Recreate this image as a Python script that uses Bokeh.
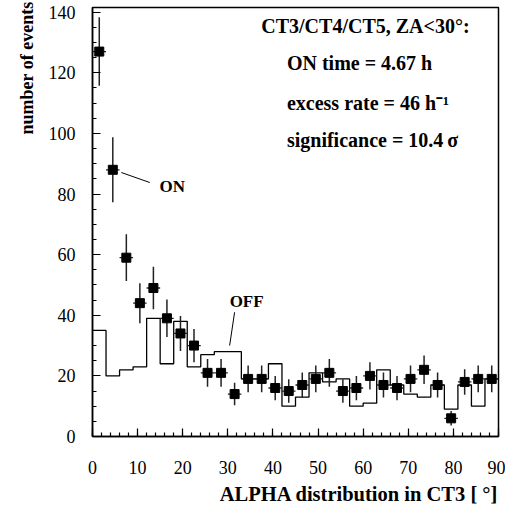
import numpy as np
from bokeh.plotting import figure
from bokeh.models import Range1d, SingleIntervalTicker, Label, ColumnDataSource, Title
from bokeh.embed import file_html
from bokeh.resources import INLINE

# ---- data ----
bin_width = 3
x_min, x_max = 0, 90
on_counts = [127, 88, 59, 44, 49, 39, 34, 30, 21, 21, 14, 19, 19, 16, 15,
             17, 19, 21, 15, 16, 20, 17, 16, 19, 22, 17, 6, 18, 19, 19]
on_errors = [11.3, 10.7, 7.7, 6.6, 7.0, 6.2, 5.8, 5.5, 4.6, 4.6, 3.7, 4.4, 4.4, 4.0, 3.9,
             4.1, 4.4, 4.6, 3.9, 4.0, 4.5, 4.1, 4.0, 4.4, 4.7, 4.1, 2.4, 4.2, 4.4, 4.4]
off_counts = [35, 20, 22, 23, 39, 24, 38, 23, 27, 28, 28, 19, 19, 24, 10,
              13, 21, 18, 19, 10, 11, 22, 17, 14, 13, 17, 9, 17, 10, 19]
info_title = "CT3/CT4/CT5, ZA<30°:"
info_lines = ["ON time = 4.67 h", "excess rate = 46 h\u207b\u00b9", "significance = 10.4\u2009\u03c3"]
x_title = "ALPHA distribution in CT3 [ °]"
y_title = "number of events"

edges = np.arange(x_min, x_max + bin_width, bin_width)
centers = edges[:-1] + bin_width / 2.0
on = np.array(on_counts, dtype=float)
err = np.array(on_errors, dtype=float)

FONT = "Liberation Serif"

p = figure(width=505, height=509, output_backend="svg", toolbar_location=None,
           x_range=Range1d(0, 90), y_range=Range1d(0, 141.55),
           min_border_left=92, min_border_right=7, min_border_top=7, min_border_bottom=73)
p.grid.visible = False
p.background_fill_color = "white"
p.border_fill_color = "white"
p.outline_line_color = "black"
p.outline_line_width = 1.5

for ax in (p.xaxis[0], p.yaxis[0]):
    ax.axis_line_width = 1.5
    ax.major_tick_in = 8
    ax.major_tick_out = 0
    ax.minor_tick_in = 4
    ax.minor_tick_out = 0
    ax.major_tick_line_width = 1.2
    ax.minor_tick_line_width = 1.2
    ax.major_label_text_font = FONT
    ax.major_label_text_font_size = "18px"
    ax.major_label_text_color = "black"
p.xaxis.ticker = SingleIntervalTicker(interval=10, num_minor_ticks=5)
p.yaxis.ticker = SingleIntervalTicker(interval=20, num_minor_ticks=4)
p.xaxis.major_label_standoff = 24
p.yaxis.major_label_standoff = 17

# OFF histogram
p.step(x=list(edges), y=off_counts + [off_counts[-1]], mode="after",
       line_color="black", line_width=1.3)

# ON points with error bars
src = ColumnDataSource(dict(x=centers, y=on, lo=on - err, hi=on + err,
                            xl=centers - bin_width / 2.0, xr=centers + bin_width / 2.0))
p.segment(x0="x", y0="lo", x1="x", y1="hi", source=src, line_color="#222222", line_width=1.5)
p.segment(x0="xl", y0="y", x1="xr", y1="y", source=src, line_color="#222222", line_width=1.3)
p.scatter(x="x", y="y", source=src, marker="square", size=9, fill_color="black", line_color="black")

# annotations ON / OFF
p.segment(x0=[6.4, 31.5], y0=[87.1, 41.0], x1=[12.7, 30.4], y1=[83.8, 30.0],
          line_color="black", line_width=1.0)
p.add_layout(Label(x=14.85, y=82.5, text="ON", text_font=FONT, text_font_style="bold",
                   text_font_size="17px", text_baseline="middle", text_align="left",
                   text_color="black"))
p.add_layout(Label(x=30.4, y=44.6, text="OFF", text_font=FONT, text_font_style="bold",
                   text_font_size="17px", text_baseline="middle", text_align="left",
                   text_color="black"))

# info block
p.add_layout(Label(x=60.5, y=135.6, text=info_title, text_font=FONT, text_font_style="bold",
                   text_font_size="20px", text_baseline="middle", text_align="center",
                   text_color="black"))
for txt, yy in zip(info_lines, [123.4, 110.2, 97.7]):
    p.add_layout(Label(x=43.1, y=yy, text=txt, text_font=FONT, text_font_style="bold",
                       text_font_size="20px", text_baseline="middle", text_align="left",
                       text_color="black"))

# axis titles
p.add_layout(Title(text=x_title, align="right", text_font=FONT, text_font_style="bold",
                   text_font_size="20.5px", text_color="black", standoff=8), "below")
p.add_layout(Title(text=y_title, align="right", text_font=FONT, text_font_style="bold",
                   text_font_size="18px", text_color="black", standoff=17, offset=-6), "left")

open("out.html", "w").write(file_html(p, INLINE))
